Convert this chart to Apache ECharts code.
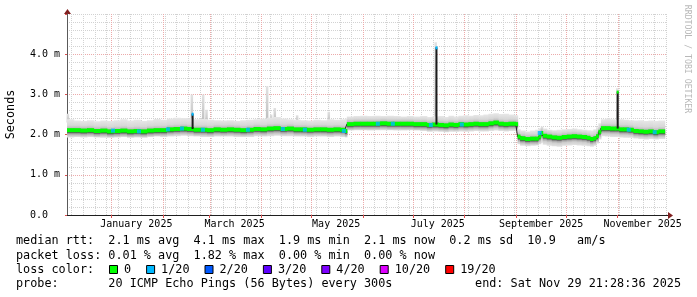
<!DOCTYPE html>
<html><head><meta charset="utf-8">
<script src="https://cdn.jsdelivr.net/npm/echarts@6/dist/echarts.min.js"></script>
<style>html,body{margin:0;padding:0;background:#fff}#c{width:697px;height:297px}</style>
</head><body><div id="c"></div>
<script>
// ---------------- data (values in ms, x in days since plot start) ----------------
const graphStartUTC = Date.UTC(2024, 11, 5, 9, 36);
const graphSpanDays = 360.2;
const xLabelMonths = ['2025-01', '2025-03', '2025-05', '2025-07', '2025-09', '2025-11'];
const xLabels = ['January 2025', 'March 2025', 'May 2025', 'July 2025', 'September 2025', 'November 2025'];
const yTickLabels = ['0.0', '1.0 m', '2.0 m', '3.0 m', '4.0 m'];

const medDays = [0,4,8,12,16,20,24,28,32,36,40,44,48,52,56,60,64,68,72,76,80,84,88,92,96,100,104,108,112,116,120,124,128,132,136,140,144,148,152,156,160,164,166.8,
  168,172,176,180,184,188,192,196,200,204,208,212,216,219,
  223,226,229,232,235,238,241,244,247,250,253,256,259,262,265,268,269.4,
  270.5,272,275,278,281,283,284.4,285.6,288,291,294,297,300,303,306,309,312,314,316,317.6,319,
  320.5,323,326,329,331.5,334,337,340,343,346,349,352,355,358.8];
const medVals = [2.11,2.11,2.10,2.11,2.09,2.10,2.08,2.09,2.10,2.08,2.09,2.08,2.10,2.11,2.11,2.13,2.14,2.15,2.14,2.12,2.12,2.11,2.13,2.12,2.13,2.12,2.11,2.12,2.14,2.13,2.15,2.16,2.14,2.15,2.13,2.13,2.12,2.13,2.13,2.12,2.13,2.12,2.09,
  2.26,2.27,2.27,2.27,2.27,2.28,2.27,2.27,2.27,2.27,2.26,2.26,2.24,2.25,
  2.24,2.23,2.25,2.24,2.26,2.25,2.26,2.27,2.26,2.26,2.28,2.30,2.27,2.26,2.27,2.27,2.26,
  1.95,1.91,1.89,1.90,1.90,1.95,2.04,1.97,1.95,1.93,1.92,1.94,1.95,1.96,1.95,1.94,1.92,1.89,1.91,1.96,2.07,
  2.16,2.16,2.15,2.15,2.13,2.13,2.12,2.09,2.08,2.07,2.08,2.06,2.08,2.08];
const smokeLo = [1.93,1.94,1.93,1.94,1.93,1.92,1.92,1.93,1.94,1.92,1.93,1.92,1.94,1.95,1.94,1.95,1.96,1.97,1.96,1.95,1.94,1.94,1.95,1.95,1.95,1.94,1.94,1.94,1.96,1.95,1.96,1.97,1.96,1.96,1.95,1.95,1.94,1.95,1.95,1.94,1.95,1.94,1.93,
  2.10,2.11,2.11,2.10,2.11,2.11,2.11,2.10,2.10,2.11,2.10,2.09,2.07,2.08,
  2.07,2.06,2.07,2.07,2.08,2.07,2.08,2.09,2.08,2.08,2.09,2.10,2.09,2.08,2.09,2.09,2.08,
  1.76,1.72,1.71,1.72,1.73,1.76,1.80,1.75,1.72,1.71,1.70,1.72,1.73,1.74,1.73,1.72,1.71,1.70,1.72,1.78,1.88,
  1.96,1.95,1.94,1.94,1.93,1.92,1.92,1.90,1.89,1.88,1.89,1.88,1.89,1.89];
const smokeHi = [2.38,2.35,2.34,2.36,2.33,2.35,2.34,2.36,2.38,2.35,2.37,2.34,2.36,2.39,2.37,2.40,2.42,2.41,2.40,2.38,2.39,2.37,2.36,2.35,2.36,2.34,2.36,2.37,2.38,2.40,2.42,2.44,2.40,2.38,2.37,2.36,2.35,2.37,2.36,2.38,2.37,2.38,2.40,
  2.45,2.46,2.47,2.46,2.47,2.46,2.47,2.46,2.45,2.46,2.45,2.46,2.44,2.45,
  2.46,2.44,2.47,2.45,2.47,2.48,2.47,2.49,2.48,2.50,2.52,2.53,2.51,2.52,2.50,2.49,2.48,
  2.13,2.10,2.08,2.10,2.12,2.16,2.20,2.15,2.12,2.11,2.12,2.13,2.14,2.15,2.13,2.12,2.11,2.10,2.13,2.18,2.28,
  2.38,2.40,2.38,2.37,2.38,2.37,2.36,2.35,2.36,2.34,2.35,2.34,2.35,2.35];

// samples with 1/20 packet loss
const lossDays = [27.6,43.2,60.6,69,81.6,108.6,129.6,142.8,166.2,186.6,195.6,218.4,237,283.8,337.2,352.8];
const lossVals = [2.10,2.08,2.13,2.15,2.12,2.12,2.14,2.12,2.09,2.27,2.27,2.24,2.25,2.04,2.12,2.06];

// single-sample spikes
const spikeDays = [74.8, 221.2, 330.0];
const spikeBase = [2.14, 2.25, 2.15];
const spikeTop  = [2.52, 4.17, 3.07];
const spikeLoss = [1, 1, 0];

// light smoke wisps above the band
const wispDays = [0.4, 74.8, 81.6, 83.6, 120.0, 122.4, 124.6, 138.0, 157.0, 221.2, 330.2];
const wispTop  = [2.52, 3.00, 3.00, 2.62, 3.20, 2.50, 2.66, 2.48, 2.57, 4.30, 3.15];
const wispBase = [2.30, 2.30, 2.30, 2.30, 2.35, 2.35, 2.35, 2.30, 2.30, 2.40, 2.30];

const lossLegend = ['0', '1/20', '2/20', '3/20', '4/20', '10/20', '19/20'];
const lossColors = ['#00ff00', '#00b8ff', '#0059ff', '#5e00ff', '#7e00ff', '#dd00ff', '#ff0000'];

const rttLine  = 'median rtt:  2.1 ms avg  4.1 ms max  1.9 ms min  2.1 ms now  0.2 ms sd  10.9   am/s';
const lossLine = 'packet loss: 0.01 % avg  1.82 % max  0.00 % min  0.00 % now';
const probeLine = 'probe:       20 ICMP Echo Pings (56 Bytes) every 300s';
const endLine = 'end: Sat Nov 29 21:28:36 2025';

// ---------------- helpers ----------------
const DAY = 86400000;
const dayOf = (y, m, d) => (Date.UTC(y, m, d) - graphStartUTC) / DAY;
const monthStarts = [];
for (let y = 2024; y <= 2025; y++) for (let m = 0; m < 12; m++) {
  const d = dayOf(y, m, 1); if (d > 0 && d < graphSpanDays) monthStarts.push(d);
}
const weekLines = [];
for (let d = dayOf(2024, 11, 8); d < graphSpanDays; d += 7) weekLines.push(d);
const labelPos = xLabelMonths.map(s => { const p = s.split('-').map(Number); return dayOf(p[0], p[1] - 1, 1) + 15; });

const MONO = 'DejaVu Sans Mono';
const GRID_MINOR = '#d2d2d2';
const GRID_MAJOR = '#ecaaaa';

function vlineRender(color) {
  return function (params, api) {
    const x = Math.round(api.coord([api.value(0), 0])[0]) + 0.5;
    const yb = api.coord([0, 0])[1], yt = api.coord([0, 5])[1];
    return { type: 'line', silent: true, shape: { x1: x, y1: yt, x2: x, y2: yb },
      style: { stroke: color, lineWidth: 1, lineDash: [1, 1] } };
  };
}

const chart = echarts.init(document.getElementById('c'), null, { renderer: 'canvas', width: 697, height: 297 });

const option = {
  animation: false,
  backgroundColor: '#ffffff',
  grid: { left: 67, right: 30, top: 14, bottom: 82, containLabel: false },
  xAxis: {
    type: 'value', min: 0, max: graphSpanDays,
    axisLine: { show: true, onZero: false, lineStyle: { color: '#1f1f1f', width: 1 } },
    axisTick: { show: true, customValues: monthStarts, length: 3, lineStyle: { color: '#de4f4f' } },
    axisLabel: { show: true, customValues: labelPos, margin: 4, fontFamily: MONO, fontSize: 10, color: '#000',
      formatter: v => { const i = labelPos.findIndex(p => Math.abs(p - v) < 0.01); return i >= 0 ? xLabels[i] : ''; } },
    splitLine: { show: false }
  },
  yAxis: [
    { type: 'value', min: 0, max: 5, interval: 0.2,
      axisLine: { show: true, onZero: false, lineStyle: { color: '#5a5a5a', width: 1 } },
      axisTick: { show: false }, axisLabel: { show: false },
      splitLine: { show: true, lineStyle: { color: GRID_MINOR, width: 1, type: [1, 1] } } },
    { type: 'value', min: 0, max: 5, interval: 1, position: 'left',
      axisLine: { show: false }, axisTick: { show: true, length: 2, lineStyle: { color: '#de4f4f' } },
      axisLabel: { show: true, align: 'left', margin: 37, fontFamily: MONO, fontSize: 10, color: '#000',
        formatter: v => yTickLabels[Math.round(v)] || '' },
      splitLine: { show: true, lineStyle: { color: [GRID_MAJOR, GRID_MAJOR, GRID_MAJOR, GRID_MAJOR, GRID_MAJOR, 'rgba(0,0,0,0)'], width: 1, type: [1, 1] } } }
  ],
  series: [
    { type: 'custom', name: 'weeks', z: 1, silent: true, data: weekLines.map(d => [d, 0]), encode: { x: 0, y: 1 }, renderItem: vlineRender(GRID_MINOR) },
    { type: 'custom', name: 'months', z: 1, silent: true, data: monthStarts.map(d => [d, 0]), encode: { x: 0, y: 1 }, renderItem: vlineRender(GRID_MAJOR) },
    { type: 'custom', name: 'wisps', z: 2, silent: true,
      data: wispDays.map((d, i) => [d, wispBase[i], wispTop[i]]), encode: { x: 0, y: [1, 2] },
      renderItem: (p, api) => {
        const a = api.coord([api.value(0) - 0.6, api.value(2)]), b = api.coord([api.value(0) + 0.9, api.value(1)]);
        return { type: 'rect', shape: { x: a[0], y: a[1], width: b[0] - a[0], height: b[1] - a[1] },
          style: { fill: new echarts.graphic.LinearGradient(0, 0, 0, 1, [{ offset: 0, color: '#e2e2e2' }, { offset: 1, color: '#bdbdbd' }]) } };
      } },
    { type: 'custom', name: 'smoke', z: 3, silent: true,
      data: medDays.slice(0, -1).map((d, i) => [d, medDays[i + 1], smokeLo[i], smokeHi[i], medVals[i]]),
      encode: { x: [0, 1], y: [2, 3] },
      renderItem: (p, api) => {
        const x0 = api.value(0), x1 = api.value(1), lo = api.value(2), hi = api.value(3), med = api.value(4);
        const a = api.coord([x0, hi]), b = api.coord([x1, lo]);
        const span = hi - lo; let last = 0;
        const at = v => { let f = (hi - v) / span; f = Math.max(last, Math.min(1, f)); last = f; return f; };
        const stops = [
          { offset: at(hi), color: '#e7e7e7' },
          { offset: at(med + 0.12), color: '#d7d7d7' },
          { offset: at(med + 0.06), color: '#bfbfbf' },
          { offset: at(med + 0.02), color: '#929292' },
          { offset: at(med - 0.05), color: '#4c4c4c' },
          { offset: at(med - 0.09), color: '#a6a6a6' },
          { offset: at(med - 0.14), color: '#cfcfcf' },
          { offset: at(lo), color: '#e3e3e3' }];
        return { type: 'rect', shape: { x: a[0], y: a[1], width: b[0] - a[0] + 0.6, height: b[1] - a[1] },
          style: { fill: new echarts.graphic.LinearGradient(0, 0, 0, 1, stops) } };
      } },
    { type: 'line', name: 'median line', z: 4, silent: true, step: 'end', showSymbol: false, symbol: 'none',
      data: medDays.map((d, i) => [d, medVals[i]]), lineStyle: { color: '#1e1e1e', width: 1 } },
    { type: 'custom', name: 'median', z: 5, silent: true,
      data: medDays.slice(0, -1).map((d, i) => [d, medDays[i + 1], medVals[i]]), encode: { x: [0, 1], y: 2 },
      renderItem: (p, api) => {
        const a = api.coord([api.value(0), api.value(2)]), b = api.coord([api.value(1), api.value(2)]);
        return { type: 'rect', shape: { x: a[0], y: a[1] - 2, width: b[0] - a[0] + 0.5, height: 4 }, style: { fill: lossColors[0] } };
      } },
    { type: 'custom', name: 'spikes', z: 6, silent: true,
      data: spikeDays.map((d, i) => [d, spikeBase[i], spikeTop[i], spikeLoss[i]]), encode: { x: 0, y: [1, 2] },
      renderItem: (p, api) => {
        const a = api.coord([api.value(0), api.value(2)]), b = api.coord([api.value(0) + 1.2, api.value(1)]);
        return { type: 'group', children: [
          { type: 'rect', shape: { x: a[0], y: a[1], width: b[0] - a[0], height: b[1] - a[1] }, style: { fill: '#1c1c1c' } },
          { type: 'rect', shape: { x: a[0], y: a[1] - 1, width: b[0] - a[0], height: 3 }, style: { fill: lossColors[api.value(3)] } }
        ] };
      } },
    { type: 'scatter', name: 'loss 1/20', z: 7, silent: true, symbol: 'rect', symbolSize: [4, 4],
      data: lossDays.map((d, i) => [d, lossVals[i]]), itemStyle: { color: lossColors[1] } }
  ]
};
chart.setOption(option);

// ---------------- decorations & legend text ----------------
const x0 = chart.convertToPixel({ xAxisIndex: 0 }, 0);
const x1 = chart.convertToPixel({ xAxisIndex: 0 }, graphSpanDays);
const yb = chart.convertToPixel({ yAxisIndex: 0 }, 0);
const yt = chart.convertToPixel({ yAxisIndex: 0 }, 5);
const g = [];
g.push({ type: 'line', shape: { x1: x1, y1: Math.round(yb) + 0.5, x2: x1 + 3, y2: Math.round(yb) + 0.5 }, style: { stroke: '#1f1f1f', lineWidth: 1 } });
g.push({ type: 'polygon', shape: { points: [[x1 + 1, yb - 3], [x1 + 6, yb + 0.5], [x1 + 1, yb + 4]] }, style: { fill: '#801f1f' } });
g.push({ type: 'polygon', shape: { points: [[x0 - 3, yt], [x0 + 0.5, yt - 5], [x0 + 4, yt]] }, style: { fill: '#801f1f' } });

g.push({ type: 'text', x: 11, y: (yb + yt) / 2, rotation: Math.PI / 2,
  style: { text: 'Seconds', font: '11.8px "' + MONO + '"', fill: '#000', align: 'center', verticalAlign: 'middle' } });
g.push({ type: 'text', x: 687, y: 59, rotation: -Math.PI / 2,
  style: { text: 'RRDTOOL / TOBI OETIKER', font: '8.2px "' + MONO + '"', fill: '#b8b8b8', align: 'center', verticalAlign: 'middle' } });

const LF = '11.8px "' + MONO + '"';
const CW = 7.1;
g.push({ type: 'text', x: 16, y: 241, style: { text: rttLine, font: LF, fill: '#000', verticalAlign: 'middle' } });
g.push({ type: 'text', x: 16, y: 255.5, style: { text: lossLine, font: LF, fill: '#000', verticalAlign: 'middle' } });
g.push({ type: 'text', x: 16, y: 269.5, style: { text: 'loss color:', font: LF, fill: '#000', verticalAlign: 'middle' } });
let lx = 109;
lossLegend.forEach((lab, i) => {
  g.push({ type: 'rect', shape: { x: lx + 0.5, y: 265.5, width: 8, height: 8 }, style: { fill: lossColors[i], stroke: '#000', lineWidth: 1 } });
  g.push({ type: 'text', x: lx + 15, y: 269.5, style: { text: lab, font: LF, fill: '#000', verticalAlign: 'middle' } });
  lx = lx + 15 + lab.length * CW + 15;
});
g.push({ type: 'text', x: 16, y: 284, style: { text: probeLine, font: LF, fill: '#000', verticalAlign: 'middle' } });
g.push({ type: 'text', x: 681, y: 284, style: { text: endLine, font: LF, fill: '#000', align: 'right', verticalAlign: 'middle' } });

chart.setOption({ graphic: g });
</script>
</body></html>
